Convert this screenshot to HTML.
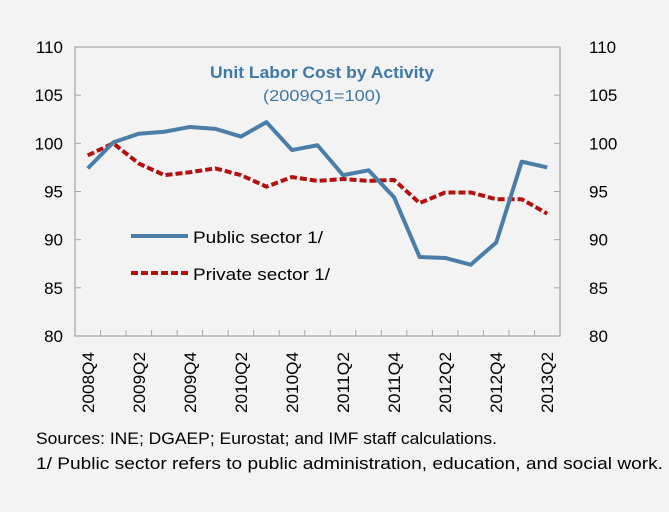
<!DOCTYPE html>
<html><head><meta charset="utf-8"><style>
body{margin:0;background:#f3f3f3;}
svg{display:block;font-family:"Liberation Sans",sans-serif;}
</style></head><body>
<svg id="c" width="669" height="512">
<rect width="669" height="512" fill="#f3f3f3"/>
<rect x="75" y="47" width="485" height="289" fill="#f3f3f3" stroke="#a6a6a6" stroke-width="1.2"/>
<g id="axes"></g>
<text x="210" y="78" textLength="224" lengthAdjust="spacingAndGlyphs" font-size="17" font-weight="bold" fill="#3e79a6">Unit Labor Cost by Activity</text>
<text x="263" y="101" textLength="118" lengthAdjust="spacingAndGlyphs" font-size="16" fill="#3e79a6">(2009Q1=100)</text>
<line x1="131" y1="236" x2="188" y2="236" stroke="#4a7ea8" stroke-width="4"/>
<text x="193" y="243" textLength="130" lengthAdjust="spacingAndGlyphs" font-size="17" fill="#000">Public sector 1/</text>
<line x1="131" y1="273" x2="188" y2="273" stroke="#b31010" stroke-width="4" stroke-dasharray="7,3"/>
<text x="193" y="280" textLength="137" lengthAdjust="spacingAndGlyphs" font-size="17" fill="#000">Private sector 1/</text>
<text x="36" y="444" textLength="461" lengthAdjust="spacingAndGlyphs" font-size="17" fill="#000">Sources: INE; DGAEP; Eurostat; and IMF staff calculations.</text>
<text x="36" y="469" textLength="627" lengthAdjust="spacingAndGlyphs" font-size="17" fill="#000">1/ Public sector refers to public administration, education, and social work.</text>
</svg>
<script>
const categories=["2008Q4","2009Q1","2009Q2","2009Q3","2009Q4","2010Q1","2010Q2","2010Q3","2010Q4","2011Q1","2011Q2","2011Q3","2011Q4","2012Q1","2012Q2","2012Q3","2012Q4","2013Q1","2013Q2"];
const publicSector=[97.4,100.1,101.0,101.2,101.7,101.5,100.7,102.2,99.3,99.8,96.7,97.2,94.4,88.2,88.1,87.4,89.7,98.1,97.5];
const privateSector=[98.75,100,97.9,96.7,97.0,97.4,96.7,95.5,96.5,96.1,96.3,96.1,96.2,93.8,94.9,94.9,94.2,94.2,92.7];
const yTicks=[80,85,90,95,100,105,110];
const NS="http://www.w3.org/2000/svg";
const L=75,R=560,T=47,B=336,yMin=80,yMax=110;
const bw=(R-L)/categories.length;
const xs=i=>L+bw*(i+0.5);
const ys=v=>B-(v-yMin)/(yMax-yMin)*(B-T);
const svg=document.getElementById('c'),ax=document.getElementById('axes');
function mk(tag,attrs,parent){const e=document.createElementNS(NS,tag);for(const k in attrs)e.setAttribute(k,attrs[k]);(parent||svg).appendChild(e);return e;}
yTicks.forEach(v=>{
  const y=ys(v);
  if(v>yMin&&v<yMax){
    const t1=mk('line',{x1:L,y1:y,x2:L+6,y2:y,stroke:'#a6a6a6'},ax);
    
    
    const t2=mk('line',{x1:R-6,y1:y,x2:R,y2:y,stroke:'#a6a6a6'},ax);
    
    
  }
  const a=mk('text',{x:63,y:y+6,'text-anchor':'end','font-size':17},ax);a.textContent=v;
  
  
  const b=mk('text',{x:589,y:y+6,'font-size':17},ax);b.textContent=v;
  
  
});
categories.forEach((c,i)=>{
  if(i>0){const t=mk('line',{x1:L+bw*i,y1:B,x2:L+bw*i,y2:B-6,stroke:'#a6a6a6'},ax);
    
    }
  if(i%2===0){const x=xs(i)+6;
    const t=mk('text',{x:x,y:352,'text-anchor':'end','font-size':17,textLength:61,lengthAdjust:'spacingAndGlyphs',transform:`rotate(-90 ${x} 352)`},ax);
    t.textContent=c;
    
    }
});
function line(vals,attrs,name){
  const p=mk('polyline',Object.assign({points:vals.map((v,i)=>xs(i)+','+ys(v)).join(' '),fill:'none','stroke-linejoin':'round'},attrs));
  
  
}
line(privateSector,{stroke:'#b31010','stroke-width':4,'stroke-dasharray':'7,3'},'private-sector-line');
line(publicSector,{stroke:'#4a7ea8','stroke-width':4},'public-sector-line');
</script>
</body></html>
